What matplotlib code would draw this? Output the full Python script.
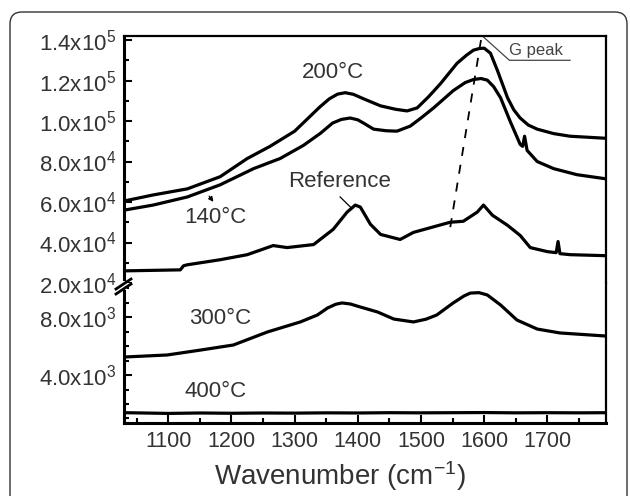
import numpy as np
import matplotlib.pyplot as plt
from matplotlib.patches import FancyBboxPatch, Rectangle
from matplotlib.lines import Line2D
from matplotlib.ticker import MultipleLocator, FixedLocator

plt.rcParams['font.family'] = ['Liberation Sans', 'DejaVu Sans']
plt.rcParams['mathtext.fontset'] = 'custom'
plt.rcParams['mathtext.rm'] = 'Liberation Sans'
plt.rcParams['mathtext.it'] = 'Liberation Sans:italic'
plt.rcParams['mathtext.bf'] = 'Liberation Sans:bold'
plt.rcParams['mathtext.default'] = 'regular'

# Raman spectra (wavenumber in cm-1, intensity in counts)
wn_200 = [1030, 1076, 1130, 1182, 1225, 1261, 1300, 1320, 1340, 1355, 1368, 1380,
          1393, 1409, 1436, 1460, 1478, 1494, 1512, 1531, 1557, 1572, 1583, 1592,
          1600, 1610, 1621, 1637, 1647, 1657, 1670, 1684, 1710, 1736, 1792]
int_200 = [60500, 63500, 66500, 72500, 81500, 87500, 95000, 101000, 107000, 111000,
           113300, 114000, 113200, 111000, 107500, 105800, 105000, 106500, 112000,
           118500, 128500, 132500, 135000, 135800, 136000, 133500, 125000, 111500,
           105500, 101500, 98000, 96000, 93800, 92500, 91500]

wn_140 = [1030, 1076, 1130, 1182, 1235, 1277, 1314, 1341, 1360, 1374, 1388, 1400,
          1409, 1425, 1445, 1462, 1483, 1500, 1520, 1551, 1570, 1583, 1595, 1605,
          1615, 1626, 1641, 1657, 1661, 1664, 1668, 1684, 1710, 1747, 1792]
int_140 = [56000, 58500, 62500, 68500, 76500, 81500, 88000, 94000, 99000, 100800,
           101500, 100600, 99000, 96000, 95200, 95000, 97500, 101500, 106500, 115000,
           119000, 120500, 121000, 120200, 117000, 111500, 100000, 88500, 87500,
           92500, 85500, 80000, 76500, 73500, 71500]

wn_ref = [1030, 1119, 1124, 1130, 1182, 1225, 1266, 1288, 1330, 1361, 1383, 1396,
          1404, 1420, 1436, 1467, 1488, 1546, 1567, 1589, 1599, 1613, 1637, 1657,
          1673, 1700, 1714, 1717, 1720, 1736, 1792]
int_ref = [26000, 26500, 28500, 29000, 31500, 34000, 38500, 37500, 39000, 46500,
           55000, 58500, 57500, 49000, 44000, 41500, 45000, 50000, 50500, 55000,
           58500, 53500, 48500, 43500, 37500, 35500, 35000, 40500, 34500, 34000, 33500]

wn_300 = [1030, 1098, 1151, 1203, 1257, 1309, 1336, 1352, 1365, 1375, 1388, 1404,
          1431, 1457, 1488, 1508, 1525, 1551, 1568, 1578, 1592, 1605, 1626, 1652,
          1684, 1720, 1792]
int_300 = [5240, 5380, 5720, 6070, 6970, 7660, 8140, 8620, 8880, 8970, 8900, 8690,
           8350, 7860, 7660, 7850, 8140, 8970, 9450, 9650, 9680, 9520, 8830, 7790,
           7170, 6900, 6690]

wn_400 = [1030, 1060, 1100, 1150, 1200, 1250, 1300, 1350, 1400, 1450, 1500, 1550,
          1600, 1650, 1700, 1750, 1792]
int_400 = [1400, 1380, 1350, 1380, 1360, 1380, 1370, 1390, 1380, 1400, 1390, 1400,
           1410, 1390, 1400, 1390, 1400]

# G peak guide (dashed) and tick labels
gpeak_wn = [1595, 1545]
gpeak_int = [140000, 45000]
upper_ticks = [2.0e4, 4.0e4, 6.0e4, 8.0e4, 1.0e5, 1.2e5, 1.4e5]
upper_labels = ['2.0x10$^{4}$', '4.0x10$^{4}$', '6.0x10$^{4}$', '8.0x10$^{4}$',
                '1.0x10$^{5}$', '1.2x10$^{5}$', '1.4x10$^{5}$']
lower_ticks = [4.0e3, 8.0e3]
lower_labels = ['4.0x10$^{3}$', '8.0x10$^{3}$']
x_ticks = [1100, 1200, 1300, 1400, 1500, 1600, 1700]

W, H = 630, 496
fig = plt.figure(figsize=(W / 100, H / 100), dpi=100)

# rounded outer frame
frame = FancyBboxPatch((0.10, -0.3), 6.17, 4.84 + 0.3,
                       boxstyle='round,pad=0,rounding_size=0.12',
                       transform=fig.dpi_scale_trans, fill=False,
                       edgecolor='#333333', linewidth=1.0)
fig.patches.append(frame)

ax_up = fig.add_axes([0.197, 0.4294, 0.765, 0.4980])
ax_lo = fig.add_axes([0.197, 0.1472, 0.765, 0.2822], sharex=ax_up)

lw = 2.3
ax_up.plot(wn_200, int_200, color='black', lw=lw)
ax_up.plot(wn_140, int_140, color='black', lw=lw)
ax_up.plot(wn_ref, int_ref, color='black', lw=lw)
ax_lo.plot(wn_300, int_300, color='black', lw=lw)
ax_lo.plot(wn_400, int_400, color='black', lw=lw)

ax_up.plot(gpeak_wn, gpeak_int, color='black', lw=1.3, ls=(0, (5, 5)))

ax_up.set_xlim(1030, 1793)
ax_up.set_ylim(20000, 142000)
ax_lo.set_ylim(690, 10345)

txt = '#333333'
# upper axis styling
ax_up.spines['bottom'].set_visible(False)
ax_up.spines['left'].set_linewidth(2.2)
ax_up.spines['top'].set_linewidth(1.6)
ax_up.spines['right'].set_linewidth(1.6)
ax_up.yaxis.set_major_locator(FixedLocator(upper_ticks))
ax_up.set_yticklabels(upper_labels)
ax_up.yaxis.set_minor_locator(MultipleLocator(10000))
ax_up.tick_params(axis='y', which='both', direction='in', width=1.5,
                  labelsize=16, labelcolor=txt, pad=6)
ax_up.tick_params(axis='y', which='major', length=6)
ax_up.tick_params(axis='y', which='minor', length=3.5)
ax_up.tick_params(axis='x', which='both', bottom=False, top=False, labelbottom=False)

# lower axis styling
ax_lo.spines['top'].set_visible(False)
ax_lo.spines['left'].set_linewidth(2.2)
ax_lo.spines['bottom'].set_linewidth(2.2)
ax_lo.spines['right'].set_linewidth(1.6)
ax_lo.yaxis.set_major_locator(FixedLocator(lower_ticks))
ax_lo.set_yticklabels(lower_labels)
ax_lo.yaxis.set_minor_locator(MultipleLocator(1000))
ax_lo.xaxis.set_major_locator(FixedLocator(x_ticks))
ax_lo.xaxis.set_minor_locator(MultipleLocator(50))
ax_lo.tick_params(axis='both', which='both', direction='in', width=1.5,
                  labelcolor=txt)
ax_lo.tick_params(axis='y', labelsize=16, pad=6)
ax_lo.tick_params(axis='x', labelsize=15.5, pad=6)
ax_lo.tick_params(which='major', length=6)
ax_lo.tick_params(which='minor', length=3.5)

ax_lo.set_xlabel('Wavenumber (cm$^{-1}$)', fontsize=20, color=txt)
ax_lo.xaxis.set_label_coords(0.448, -0.443)
ax_lo.xaxis.label.set_va('baseline')

# curve labels
fs = 16
ax_up.text(1360, 124000, '200°C', fontsize=fs, color=txt, ha='center', va='center')
ax_up.text(1174, 52500, '140°C', fontsize=fs, color=txt, ha='center', va='center')
ax_up.text(1371, 70000, 'Reference', fontsize=fs, color=txt, ha='center', va='center')
ax_lo.text(1182, 7930, '300°C', fontsize=fs, color=txt, ha='center', va='center')
ax_lo.text(1174, 2830, '400°C', fontsize=fs, color=txt, ha='center', va='center')

ax_up.annotate('', xy=(1174, 59000), xytext=(1162, 64000),
               arrowprops=dict(arrowstyle='-|>', color='black', lw=0.9,
                               mutation_scale=7))
ax_up.plot([1372, 1390], [62500, 57000], color='black', lw=0.9)

# G peak callout
ax_up.plot([1599, 1640, 1736], [141500, 130000, 130000], color='#444444', lw=0.9,
           clip_on=False)
ax_up.text(1640, 131200, 'G peak', fontsize=12, color='#444444', ha='left',
           va='bottom')

# axis-break mark on the left spine
def px(x, y):
    return x / W, 1 - y / H

x0, y0 = px(119, 290)
fig.patches.append(Rectangle((x0, y0), 8 / W, 9 / H, transform=fig.transFigure,
                             facecolor='white', edgecolor='none', zorder=5))
for dy in (0, 5):
    (xa, ya), (xb, yb) = px(116, 289 + dy), px(131, 279 + dy)
    fig.lines.append(Line2D([xa, xb], [ya, yb], transform=fig.transFigure,
                            color='black', lw=2.0, zorder=6))

fig.savefig('out.png', dpi=100)
